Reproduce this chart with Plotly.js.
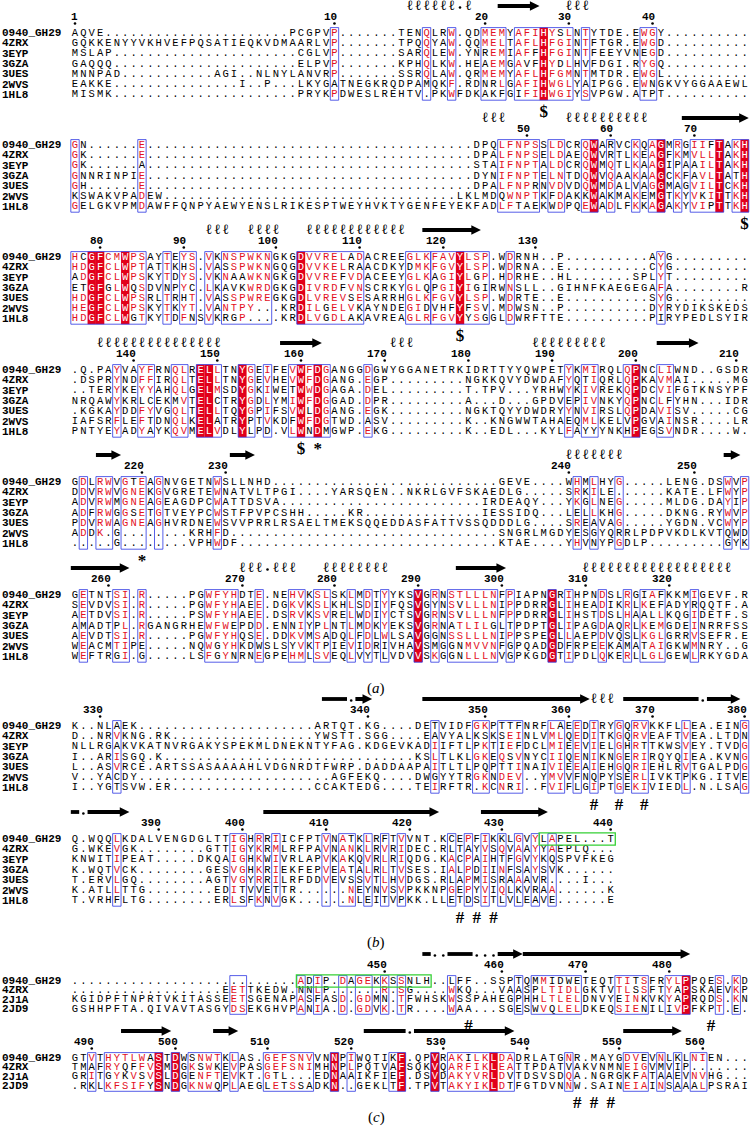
<!DOCTYPE html>
<html><head><meta charset="utf-8">
<script src="https://cdn.plot.ly/plotly-3.0.1.min.js"></script>
<style>html,body{margin:0;padding:0;background:#fff}#chart{width:750px;height:1129px}</style>
</head><body><div id="chart"></div>
<script>
// ---------------- DATA ----------------
const NAMES_A = ["0940_GH29","4ZRX","3EYP","3GZA","3UES","2WVS","1HL8"];
const NAMES_C = ["0940_GH29","4ZRX","2J1A","2JD9"];
const D10 = "..........";

const SEQ_1 = [
 "AQVE"+D10+D10+".."+"PCGPVP"+"......."+"TENQLRW.QDMEMYAFIHYSLNTYTDE.EWGY"+D10,
 "GQKKENYYVKHVEFPQSATIEQKVDMAARLVP"+"......."+"TPQQYAW.QQMELTAFLHFGINTFTGR.EWGD"+D10,
 "MSLAP"+D10+D10+".."+"CGLVP"+"......."+"SARQLEW.YNREMIAFFHFGINTFEEYVNEGD"+D10,
 "GAQQQ"+D10+D10+".."+"ELPVP"+"......."+"KPHQLKW.HEAEMGAVFHYDLHVFDGI.RYGQ"+D10,
 "MNNPAD"+D10+"."+"AGI"+".."+"NLNYLANVRP"+"......."+"SSRQLAW.QRMEMYAFLHFGMNTMTDR.EWGL"+D10,
 "EAKKE"+D10+"....."+"I..P...LKYGA"+"TNEGKRQDPAMQKF.RDNRLGAFIHWGLYAIPGG.EWNGKVYGGAAEWL",
 "MISMK"+D10+D10+".."+"PRYKP"+"DWESLREHTV.PKWFDKAKFGIFIHWGIYSVPGW.ATPT"+D10
];
const SEQ_2 = [
 "GN......E"+D10+D10+D10+"........."+"DPQLFNPSSLDCRQWARVCKQAGMRGIIFTAKH",
 "GK......E"+D10+D10+D10+"........."+"DPALFNPSELDAEQWVRTLKEAGFKMVLLTAKH",
 "GK......A"+D10+D10+D10+"........."+"STAIFNPTALDCRQWMQTLKAAGIPAAILTAKH",
 "GNNRINPIE"+D10+D10+D10+"........."+"DYNIFNPTELNTDQWVQAAKAAGCKFAVLTATH",
 "GH......E"+D10+D10+D10+"........."+"DPALFNPRNVDVDQWMDALVAGGMAGVILTCKH",
 "KSWAKVPADEW"+D10+D10+D10+"....."+"LKLMDQWNPTKFDAKKWAKMAKEMGTKYVKITTKH",
 "GELGKVPMDAWFFQNPYAEWYENSLRIKESPTWEYHVKTYGENFEYEKFADLFTAEKWDPQEWADLFKKAGAKYVIPTTKH"
];
const SEQ_3 = [
 "HCGFCMWPSAYTEYS.VKNSPWKNGKGDVVRELADACREEGLKFAVYLSP.WDRNH..P"+D10+"AYG"+".........",
 "HDGFCLWPTATTKHS.VASSPWKNGQGDVVKELRAACDKYDMKFGVYLSP.WDRNA..E"+D10+"CYG"+".........",
 "ADGFCLWPSKYTDYS.VKNAAWKNGKGDVVREFVDACEEYGLKAGIYLGP.HDRHE..HL"+"......."+"SPLYT"+".........",
 "ETGFGLWQSDVNPYC.LKAVKWRDGKGDIVRDFVNSCRKYGLQPGIYIGIRWNSLL..GIHNFKAEGEGAFA"+"........"+"R",
 "HDGFCLWPSRLTRHT.VASSPWREGKGDLVREVSESARRHGLKFGVYLSP.WDRTE..E"+D10+"SYG"+".........",
 "HEGFCLWPSKYTKYT.VANTPY...KRDILGELVKAYNDEGIDVHFYFSV.MDWSN..P"+D10+"DYRYDIKSKEDS",
 "HDGFCLWGTKYTDFNSVKRGP....KRDLVGDLAKAVREAGLRFGVYYSGGLDWRFTTE"+D10+"PIRYPEDLSYIR"
];
const SEQ_4 = [
 ".Q.PAYVAYFRNQLRELLTNYGEIFEVWFDGANGGDGWYGGANETRKIDRTTYYQWPETYKMIRQLQPNCLIWND..GSDR",
 ".DSPRYNDFFIRQLTELLTNYGEVHEVWFDGANG.EGP"+"........."+"NGKKQVYDWDAFYQTIQRLQPKAVMAI"+"....."+"MG",
 "..TERYKEYYAHQLGELMSDYGKIWETWWDGAGA.DEL"+"........."+"T.TPV...YRHWYKIVREKQPDCVIFGTKNSYPF",
 "NRQAWYKRLCEKMVTELCTRYGDLYMIWFDGGAD.DPR"+"........."+"A...D...GPDVEPIVNKYQPNCLFYHN...IDR",
 ".KGKAYDDFYVGQLTELLTQYGPIFSVWLDGANG.EGK"+"........."+"NGKTQYYDWDRYYNVIRSLQPDAVISV"+"....."+"CG",
 "IAFSRFLEFTDNQLKELATRYPTVKDFWFDGTWD.ASV"+"........."+"K..KNGWWTAHAEQMLKELVPGVAINSR"+"...."+"LR",
 "PNTYEYADYAYKQVMELVDLYLPD.VLWNDMGWP.EKG"+"........."+"K..EDL...KYLFAYYYNKHPEGSVNDR"+"...."+"W."
];
const SEQ_5 = [
 "GDLRWVGTEAGNVGETNWSLLNHD"+D10+D10+"......."+"GEVE"+"...."+"WHMLHYG"+"....."+"LENG"+"."+"DSWVP",
 "DDVRWVGNEKGVGRETEWNATVLTPGI"+"...."+"YARSQEN"+".."+"NKRLGVFSKAEDLG"+"....."+"SRKILE"+"......"+"KATE"+"."+"LFWYP",
 "ADVRWMGNEAGEAGDPCWATTDSVA"+D10+D10+"...."+"IRDEAQY"+"..."+"YKGLNEG"+"....."+"MLDG"+"."+"DAYIP",
 "ADFRWGGSETGTVEYPCWSTFPVPCSHH"+"....."+"KR"+D10+"...."+"IESSIDQ"+"..."+"LELLKHG"+"....."+"DKNG"+"."+"RYWVP",
 "PDVRWAGNEAGHVRDNEWSVVPRRLRSAELTMEKSQQEDDASFATTVSSQDDDLG"+"...."+"SREAVAG"+"....."+"YGDN"+"."+"VCWYP",
 "ADDK.G"+"........"+"KRHFD"+D10+D10+D10+".."+"SNGRLMGDYESGYQRRLPDPVKDLKVTQWD",
 "....."+"G"+"........"+"VPHWDF"+D10+D10+D10+"."+"KTAE"+"...."+"YHVNYPGDLP"+"........."+"GYK"
];
const SEQ_6 = [
 "GETNTSI.R.....PGWFYHDTE.NEHVKSLSKLMDTYYKSVGRNSTLLLNFPIAPNGRIHPNDSLRGIAFKKMIGEVF.R",
 "SEVDVSI.R.....PGWFYHAEE.DGKVKSLKHLSDIYFQSVGYNSVLLLNIPPDRRGLIHEADIKRLKEFADYRQQTF.A",
 "AETDVSI.R.....PSWFYHAEE.DSRVKSVRELWDIYCTSVGRNSVLLLNFPPDRRGLIHSTDSLHAALLKQGIDETF.S",
 "AMADTPL.RGANGRHEWFWEPDD.ENNIYPLNTLMDKYEKSVGRNATLILGLTPDPTGLIPAGDAQRLKEMGDEINRRFSS",
 "AEVDTSI.R.....PGWFYHQSE.DDKVMSADQLFDLWLSAVGGNSSLLLNIPPSPEGLLAEPDVQSLKGLGRRVSEFR.E",
 "WEACMTIPE.....NQWGYHKDWSLSYVKTPIEVIDRIVHAVSMGGNMVVNFGPQADGDFRPEEKAMATAIGKWMNRY..G",
 "WEFTRGI.G.....LSFGYNRNEGPEHMLSVEQLVYTLVDVVSKGGNLLLNVGPKGDGTIPDLQKERLLGLGEWLRKYGDA"
];
const SEQ_7 = [
 "K..NLAEK"+D10+D10+"."+"ARTQT.KG"+"...."+"DETVIDFGKPTTFNRFLAEEDIRYGQRVKKFLLEA.EING",
 "D..NRVKNG.RK"+D10+"......."+"YWSTT.SGG"+"...."+"EAVYALKSKSEINLVMLQEDITKGQRVEAFTVEA.LTDN",
 "NLLRGAKVKATNVRGAKYSPEKMLDNEKNTYFAG.KDGEVKADIIFTLPKTIEFDCLMIEEVIELGHRTTKWSVEY.TVDG",
 "I..ARISGQ.K"+D10+D10+D10+"KSLTLKLGKEQSVNYCIIQENIKNGERIRQYQIEA.KVNG",
 "L..ASVRCE.ARTSSASAAAAHLVDGNRDTFWRP.DADDAAPAITLTLPQPTTINAIVIEEAIEHGQRIEHLRVTGALPDG",
 "V..YACDY"+D10+D10+"..."+"AGFEKQ"+"...."+"DWGYYTRGKNDEV"+".."+"YMVVFNQPYSERLIVKTPKG"+"."+"ITVE",
 "I..YGTSVW.ER"+D10+"......."+"CCAKTEDG"+"...."+"TEIRFTR"+"."+"KCNRI"+".."+"FVIFLGIPTGEKIVIEDL"+".N."+"LSAG"
];
const SEQ_8 = [
 "Q.WQQLKDALVENGDGLTTIGHRRIICFPTVNATKLRFTVVNT.KCEPFIKKLGVYLAPEL...T",
 "G.WKEVGK"+"........"+"GTTIGYKRMLRFPAVNANKLRVRIDEC.RLTAYVSQVAAYYAEPLQ...",
 "KNWITIPEAT"+"....."+"DKQAIGHKWIVRLAPVKAKQVRLRIQDG.KACPAIHTFGVYKQSPVFKEG",
 "K.WQTVCK"+"........"+"GESVGHKRIEKFEPVEATALRLTVSES.IALPDIINFSAYSVK"+"......",
 "T.ERVLGQ"+"........"+"AGTVGYRRILRFDDVEVSSVTLHVDGS.RLAPMISRAAAVR"+"...."+"I"+"...",
 "K.ATLLTTG"+"........"+"EDITVVETTR"+"......"+"NEYNVSVPKKNPGEPYVIQLKVRAA"+"......"+"K",
 "T.VRHFLTG"+"........"+"ERLSFKNVGK"+"......"+"NLEITVPKK"+"."+"LLETDSITLVLEAVE"+"......"+"E"
];
const SEQ_9 = [
 D10+D10+"......."+"ADIP.DAGEKKSSNLH..LFF..SSPTQMMIDWETEQTTITSFRYLPPQES.KD",
 D10+"........"+"EETTKEDW.NNLP"+"......"+"R.SG"+"...."+"WKQ"+"..."+"VAASPLTIDLGKTVTLSSFTYAPSKAEVKP",
 "KGIDPFTNPRTVKITASSEETSGENAPASFASD.GDMN.TFWHSKWSSPAHEGPHHLTLELDNVYEINKVKYAPRQDS.KN",
 "GSHHPFTA.QIVAVTASGYDSEKGHVPANIA.D.GDVK.TR....WAA...SGESWVQLELDKEQSIENILIVPFKPT.E."
];
const SEQ_10 = [
 "GTVTHYTLWASTDWSNWTKLAS.GEFSNVVNNPIWQTIKF.QPVRAKILKLDADRLATGNR.MAYGDVEVNLKLNIEN...",
 "TMAFRYQFFVSMDGKSWKEVPASGEFSNIMHNPLPQTVAFSQKVQARFIKLEATTPDATVAKVNMNEIGVMVIP"+".......",
 "GRITGYKVSVSLDGENFTEVKT.GTL...EDNAAIKFIEF.DSVDAKYVRLDVTDSVSDQA.NGRGKFATAAEVNVHG...",
 ".RKLKFSIFYSNDGKNWQPLAEGLETSSADKN..GEKLTF.TPVTAKYIKLDTFGTDVNNW.SAINEIAINSAAALPSRAI"
];

// ruler ticks: [column, label]
const TICK_1 = [[1,"1"],[32,"10"],[50,"20"],[60,"30"],[70,"40"]];
const TICK_2 = [[55,"50"],[65,"60"],[75,"70"]];
const TICK_3 = [[4,"80"],[14,"90"],[25,"100"],[35,"110"],[45,"120"],[56,"130"]];
const TICK_4 = [[8,"140"],[18,"150"],[28,"160"],[38,"170"],[48,"180"],[58,"190"],[68,"200"],[80,"210"]];
const TICK_5 = [[9,"220"],[19,"230"],[60,"240"],[75,"250"]];
const TICK_6 = [[5,"260"],[21,"270"],[32,"280"],[42,"290"],[52,"300"],[62,"310"],[72,"320"]];
const TICK_7 = [[4,"330"],[36,"340"],[50,"350"],[60,"360"],[70,"370"],[81,"380"]];
const TICK_8 = [[11,"390"],[21,"400"],[31,"410"],[41,"420"],[52,"430"],[65,"440"]];
const TICK_9 = [[38,"450"],[52,"460"],[62,"470"],[72,"480"]];
const TICK_10 = [[3,"490"],[13,"500"],[24,"510"],[34,"520"],[45,"530"],[55,"540"],[66,"550"],[76,"560"]];

// strictly conserved columns
const RED_1 = [57];
const RED_2 = [63,71,78,81];
const RED_3 = [3,4,7,28,47];
const RED_4 = [16,17,21,28,30,68];
const RED_5 = [];
const RED_6 = [42,58];
const RED_7 = [];
const RED_8 = [];
const RED_9 = [74];
const RED_10 = [11,13,32,40,44,51];

// similarity frames [from, to]
const BOX_1 = [[32,32],[43,43],[46,46],[50,52],[54,60],[62,62],[69,70]];
const BOX_2 = [[1,1],[9,9],[52,56],[58,59],[62,63],[65,65],[68,68],[70,71],[73,73],[75,78],[80,81]];
const BOX_3 = [[1,9],[12,12],[14,15],[17,17],[19,24],[28,35],[41,43],[44,50],[53,53],[71,71]];
const BOX_4 = [[6,6],[9,10],[13,14],[16,18],[21,22],[24,24],[27,31],[36,36],[60,60],[62,63],[67,68],[71,72]];
const BOX_5 = [[2,2],[4,5],[7,9],[11,11],[18,18],[61,61],[63,63],[66,66],[79,79],[81,81]];
const BOX_6 = [[2,2],[6,7],[9,9],[17,20],[23,23],[27,28],[30,31],[34,34],[36,36],[38,38],[42,42],[44,44],[46,51],[53,53],[58,58],[60,60],[64,64],[67,67],[69,71],[75,75]];
const BOX_7 = [[6,6],[44,44],[49,50],[52,54],[58,59],[61,61],[63,63],[66,66],[68,69],[74,74],[81,81]];
const BOX_8 = [[6,6],[20,21],[23,23],[25,25],[31,31],[33,34],[36,36],[38,38],[40,40],[46,46],[48,48],[50,50],[52,52],[54,54],[56,56],[58,58]];
const BOX_9 = [[20,21],[28,28],[30,30],[33,33],[35,36],[38,38],[40,40],[46,46],[54,54],[56,61],[66,69],[72,74],[78,78],[80,80]];
const BOX_10 = [[3,3],[5,11],[13,13],[15,18],[20,20],[24,29],[32,32],[34,34],[39,40],[44,44],[46,53],[60,60],[67,69],[71,71],[73,73],[75,76]];

// green highlight on first sequence [from, to]
const GREEN_8 = [57,65];
const GREEN_9 = [28,43];

// secondary structure: h = helix, a = strand arrow, b = strand bar, d = dot
const SS_1 = [["h",41,46],["d",47,47],["h",48,48],["a",52,56],["h",60,62]];
const SS_2 = [["h",50,52],["h",60,69],["a",74,81]];
const SS_3 = [["h",17,19],["h",22,25],["h",29,40],["a",43,49]];
const SS_4 = [["h",4,18],["a",26,30],["h",39,41],["h",56,64],["a",71,75]];
const SS_5 = [["a",4,6],["a",20,22],["h",60,66],["a",79,80]];
const SS_6 = [["a",1,7],["h",21,23],["d",24,24],["h",25,27],["h",31,38],["a",47,52],["h",62,79]];
const SS_7 = [["b",31,33],["d",34,34],["a",35,36],["a",43,62],["h",63,65],["b",67,75],["d",76,76],["a",77,80]];
const SS_8 = [["b",1,1],["d",2,2],["a",3,7],["a",24,44],["a",50,57]];
const SS_9 = [["b",43,43],["d",44,45],["b",46,48],["d",49,51],["a",52,54],["a",55,74]];
const SS_10 = [["a",7,12],["a",18,20],["b",36,40],["d",41,41],["a",42,53],["a",67,73]];

// marks under blocks [column, symbol]
const SYM_1 = [[57,"$"]];
const SYM_2 = [[81,"$"]];
const SYM_3 = [[47,"$"]];
const SYM_4 = [[28,"$"],[30,"*"]];
const SYM_5 = [[9,"*"]];
const SYM_6 = [];
const SYM_7 = [[63,"#"],[66,"#"],[69,"#"]];
const SYM_8 = [[47,"#"],[49,"#"],[51,"#"]];
const SYM_9 = [[48,"#"],[77,"#"]];
const SYM_10 = [[61,"#"],[63,"#"],[65,"#"]];

const PANELS = ["a","b","c"];

// ---------------- LAYOUT / DRAWING ----------------
const W = 750, H = 1129, PX0 = 75, PXC = 8.37;
const colOf = p => 1 + (p - PX0) / PXC;
const ROW0 = [33,145,257,370,482,595,726,839,981,1058];
const PITCH = [10.3,10.3,10.3,10.3,10.3,10.3,10.3,10.3,9.3,9.3];
const PANEL_Y = [688,942,1117];

const BLOCKS = [
 [SEQ_1,NAMES_A,TICK_1,RED_1,BOX_1,SS_1,SYM_1,null],
 [SEQ_2,NAMES_A,TICK_2,RED_2,BOX_2,SS_2,SYM_2,null],
 [SEQ_3,NAMES_A,TICK_3,RED_3,BOX_3,SS_3,SYM_3,null],
 [SEQ_4,NAMES_A,TICK_4,RED_4,BOX_4,SS_4,SYM_4,null],
 [SEQ_5,NAMES_A,TICK_5,RED_5,BOX_5,SS_5,SYM_5,null],
 [SEQ_6,NAMES_A,TICK_6,RED_6,BOX_6,SS_6,SYM_6,null],
 [SEQ_7,NAMES_A,TICK_7,RED_7,BOX_7,SS_7,SYM_7,null],
 [SEQ_8,NAMES_A,TICK_8,RED_8,BOX_8,SS_8,SYM_8,GREEN_8],
 [SEQ_9,NAMES_C,TICK_9,RED_9,BOX_9,SS_9,SYM_9,GREEN_9],
 [SEQ_10,NAMES_C,TICK_10,RED_10,BOX_10,SS_10,SYM_10,null]
];

const REDBG = "#e2001a", REDTX = "#e3101e", BLUE = "rgba(40,50,225,0.78)", GREEN = "#35d035";
const GROUPS = ["ILVM","FYW","KRH","DENQ","ST","AG","P","C"];
const groupOf = ch => GROUPS.findIndex(g => g.includes(ch));

const LX=[],LY=[],LT=[],LC=[];
const HX=[],HY=[];
const DX=[],DY=[];
const SX=[],SY=[],ST=[];
const shapes=[], annotations=[];

BLOCKS.forEach(([seq,names,ticks,reds,boxes,ss,syms,green],bi)=>{
  const y0 = ROW0[bi], p = PITCH[bi], n = seq.length;
  const yTop = y0 - 5.4, yBot = y0 + (n-1)*p + 5.4;
  const redSet = new Set(reds);
  const boxSet = new Set();
  boxes.forEach(([a,b])=>{for(let c=a;c<=b;c++) boxSet.add(c);});
  const major = {};
  boxSet.forEach(c=>{
    const cnt = {};
    seq.forEach(s=>{const ch=s[c-1]; if(ch && ch!=='.'){const g=groupOf(ch); if(g>=0) cnt[g]=(cnt[g]||0)+1;}});
    let best=-1,bv=0; Object.keys(cnt).forEach(g=>{if(cnt[g]>bv){bv=cnt[g];best=+g;}});
    major[c] = bv>=2 ? best : -1;
  });
  reds.forEach(c=>shapes.push({type:"rect",xref:"x",yref:"y",x0:c-0.5,x1:c+0.5,y0:yTop,y1:yBot,
     fillcolor:REDBG,line:{width:0},layer:"below"}));
  boxes.forEach(([a,b])=>shapes.push({type:"rect",xref:"x",yref:"y",x0:a-0.5,x1:b+0.5,y0:yTop,y1:yBot,
     fillcolor:"rgba(0,0,0,0)",line:{color:BLUE,width:1},layer:"above"}));
  if (green) shapes.push({type:"rect",xref:"x",yref:"y",x0:green[0]-0.55,x1:green[1]+0.55,y0:y0-6.2,y1:y0+6.2,
     fillcolor:"rgba(0,0,0,0)",line:{color:GREEN,width:1.3},layer:"above"});
  seq.forEach((s,ri)=>{
    const y = y0 + ri*p;
    annotations.push({x:colOf(1),y:y,xref:"x",yref:"y",text:"<b>"+names[ri]+"</b>",showarrow:false,
      xanchor:"left",yanchor:"middle",borderpad:0,font:{family:"Liberation Mono, Courier New, monospace",size:11,color:"#000"}});
    for(let c=1;c<=s.length;c++){
      const ch = s[c-1];
      let col = "#000";
      if (redSet.has(c)) col = "#fff";
      else if (boxSet.has(c) && ch!=='.' && groupOf(ch)===major[c] && major[c]>=0) col = REDTX;
      LX.push(c); LY.push(y); LT.push(ch); LC.push(col);
    }
  });
  ticks.forEach(([c,lab])=>{
    annotations.push({x:c+0.42,y:y0-16,xref:"x",yref:"y",text:"<b>"+lab+"</b>",showarrow:false,
      xanchor:"right",yanchor:"middle",borderpad:0,font:{family:"Liberation Mono, Courier New, monospace",size:11,color:"#000"}});
    DX.push(c); DY.push(y0-9.5);
  });
  const ys = y0 - 27;
  ss.forEach(([t,a,b])=>{
    if (t==="h"){ for(let c=a;c<=b;c++){HX.push(c);HY.push(ys);} }
    else if (t==="d"){ for(let c=a;c<=b;c++){DX.push(c);DY.push(ys+1.5);} }
    else if (t==="b"){
      shapes.push({type:"rect",xref:"x",yref:"y",x0:a-0.5,x1:b+0.5,y0:ys-1.9,y1:ys+1.9,fillcolor:"#000",line:{width:0}});
    } else {
      const x0=a-0.5, tip=b+0.5, xh=Math.max(x0+0.2, tip-1.15);
      shapes.push({type:"path",xref:"x",yref:"y",fillcolor:"#000",line:{width:0},
        path:`M ${x0},${ys-1.9} L ${xh},${ys-1.9} L ${xh},${ys-4.8} L ${tip},${ys} L ${xh},${ys+4.8} L ${xh},${ys+1.9} L ${x0},${ys+1.9} Z`});
    }
  });
  const ysym = y0 + (n-1)*p + 18;
  syms.forEach(([c,t])=>{SX.push(c);SY.push(ysym);ST.push(t);});
});

PANELS.forEach((lab,i)=>annotations.push({x:colOf(376),y:PANEL_Y[i],xref:"x",yref:"y",text:"(<i>"+lab+"</i>)",
  showarrow:false,xanchor:"center",yanchor:"middle",font:{family:"Liberation Serif, Times New Roman, serif",size:15,color:"#000"}}));

const traces = [
 {type:"scatter",mode:"text",x:LX,y:LY,text:LT,textposition:"middle center",hoverinfo:"skip",
  textfont:{family:"Liberation Mono, Courier New, monospace",size:10.5,color:LC}},
 {type:"scatter",mode:"text",x:HX,y:HY,text:HX.map(()=>"ℓ"),textposition:"middle center",hoverinfo:"skip",
  textfont:{family:"DejaVu Serif, serif",size:14,color:"#000"}},
 {type:"scatter",mode:"markers",x:DX,y:DY,hoverinfo:"skip",marker:{size:2.6,color:"#000"}},
 {type:"scatter",mode:"text",x:SX,y:SY,text:ST.map(t=>"<b>"+t+"</b>"),textposition:"middle center",hoverinfo:"skip",
  textfont:{family:"Liberation Serif, DejaVu Serif, serif",size:17,color:"#000"}}
];

const layout = {
  width:W,height:H,margin:{l:0,r:0,t:0,b:0},paper_bgcolor:"#fff",plot_bgcolor:"#fff",showlegend:false,
  xaxis:{range:[colOf(0),colOf(W)],visible:false,fixedrange:true},
  yaxis:{range:[H,0],visible:false,fixedrange:true},
  shapes:shapes,annotations:annotations
};
Plotly.newPlot("chart",traces,layout,{staticPlot:true,displayModeBar:false});
</script>
</body></html>
